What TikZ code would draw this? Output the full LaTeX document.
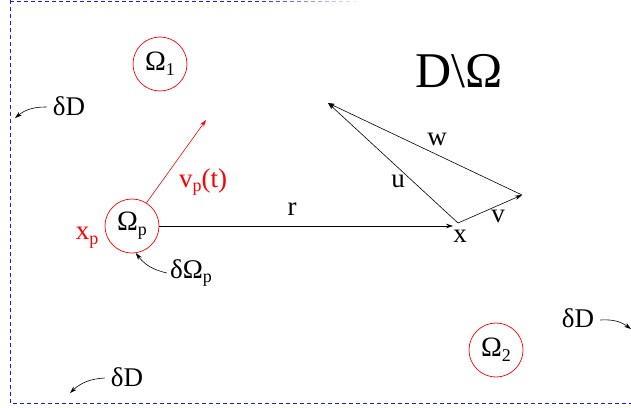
\documentclass[tikz,border=0pt]{standalone}
\usepackage{fontspec}
\setmainfont{Liberation Serif}
\usetikzlibrary{arrows.meta}
\newcommand\mysub[1]{\raisebox{-0.18em}{\fontsize{18}{18}\selectfont #1}}
\begin{document}
\begin{tikzpicture}[x=1pt,y=-1pt,
  lbl/.style={inner sep=0pt,font=\fontsize{27}{29}\selectfont},
  region/.style={circle,draw=red,line width=0.7pt,minimum size=54pt,inner sep=0pt,font=\fontsize{28}{30}\selectfont},
  vec/.style={-{Stealth[length=7pt,width=4.5pt]},line width=0.6pt},
  border/.style={blue!90,line width=0.7pt,dash pattern=on 4pt off 3pt}]
\useasboundingbox (0,0) rectangle (631,407);
% border
\draw[border] (10,0) -- (10,403) -- (631,403);
\foreach \x in {10,17,...,360}{
  \pgfmathsetmacro\op{min(1,(362-\x)/110)}
  \draw[blue!90,line width=0.7pt,opacity=\op] (\x,1) -- (\x+4,1);
}
% regions
\node[region] (om1) at (160,64) {Ω\mysub{1}};
\node[region] (omp) at (132,226) {Ω\mysub{p}};
\node[region] (om2) at (496,350) {Ω\mysub{2}};
% title
\node[inner sep=0pt,font=\fontsize{50}{52}\selectfont] (title) at (459,71) {D\textbackslash Ω};
% coordinates
\coordinate (X) at (458,223);
\coordinate (XR) at (453,226);
\coordinate (U) at (328,103);
\coordinate (V) at (522,195);
\coordinate (VP) at (206,120);
% vectors
\draw[vec] (omp.east) -- (XR);
\draw[vec] (X) -- (U);
\draw[vec] (X) -- (V);
\draw[vec] (V) -- (U);
\draw[vec,red] (omp.58) -- (VP);
% labels
\node[lbl] (r) at (292,209) {r};
\node[lbl] (xl) at (460,236) {x};
\node[lbl] (ul) at (398,181) {u};
\node[lbl] (vl) at (498,216) {v};
\node[lbl] (wl) at (437,139) {w};
\node[lbl,red] (vpl) at (203,182) {v\mysub{p}(t)};
\node[lbl,red] (xpl) at (87,238) {x\mysub{p}};
\node[lbl] (dOp) at (191,273) {δΩ\mysub{p}};
\node[lbl] (dD1) at (69,106) {δD};
\node[lbl] (dD2) at (127,377) {δD};
\node[lbl] (dD3) at (578,318) {δD};
% pointer arrows
\coordinate (p1) at (15,118);
\coordinate (p2) at (70,393);
\coordinate (p3) at (631,329);
\draw[vec] ([xshift=-6pt,yshift=-1pt]dD1.west) to[bend right=20] (p1);
\draw[vec] ([xshift=-6pt,yshift=-1pt]dD2.west) to[bend right=20] (p2);
\draw[vec] ([xshift=6pt,yshift=-2pt]dD3.east) to[bend left=20] (p3);
\draw[vec] ([xshift=-3pt]dOp.west) to[bend left=20] (omp.-82);
\end{tikzpicture}
\end{document}
